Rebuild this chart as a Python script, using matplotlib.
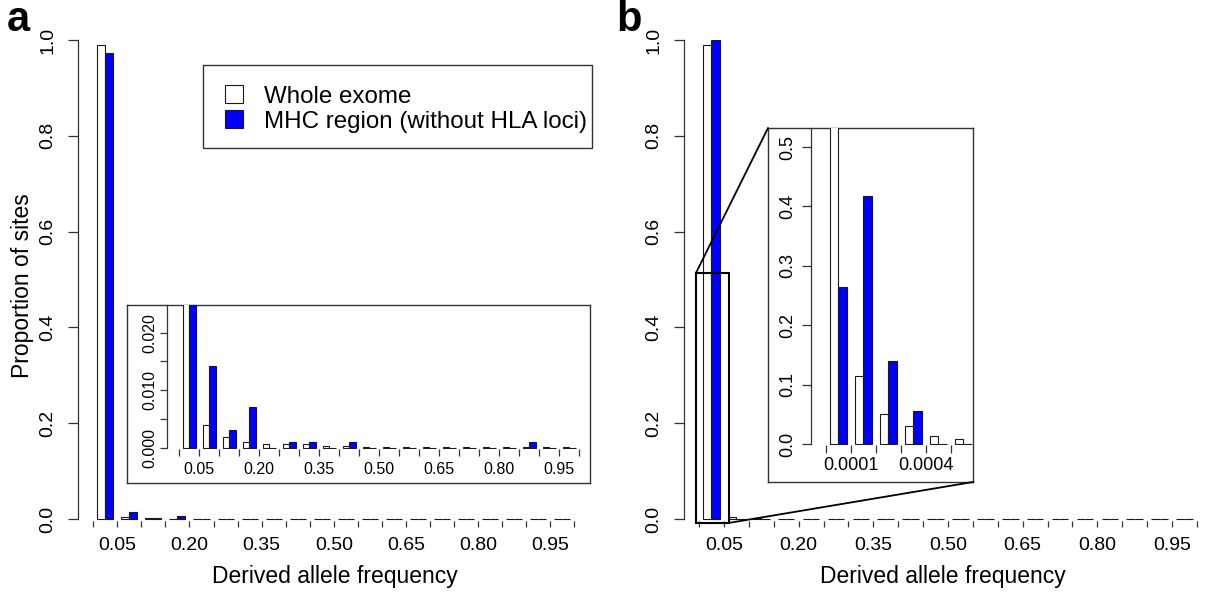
import matplotlib
matplotlib.use('Agg')
import matplotlib.pyplot as plt
from matplotlib.patches import Patch, Rectangle, ConnectionPatch
import numpy as np

plt.rcParams['font.family'] = ['Liberation Sans', 'DejaVu Sans']

# ---------------- data ----------------
series_names = ['Whole exome', 'MHC region (without HLA loci)']

bin_width = 0.05
freq_tick_labels = ['0.05', '0.20', '0.35', '0.50', '0.65', '0.80', '0.95']

a_whole = [0.990, 0.0040, 0.0019, 0.0011, 0.0007, 0.0006, 0.0006, 0.0004, 0.0003, 0.0002,
           0.0002, 0.0002, 0.0001, 0.0001, 0.0001, 0.0001, 0.0001, 0.0001, 0.0001, 0.0001]
a_mhc = [0.972, 0.0142, 0.0031, 0.0071, 0.0, 0.0010, 0.0010, 0.0, 0.0010, 0.0,
         0.0, 0.0, 0.0, 0.0, 0.0, 0.0, 0.0, 0.0010, 0.0, 0.0]

b_whole = [0.990, 0.0040, 0.0015, 0.0010, 0.0006, 0.0004, 0.0003, 0.0002, 0.0002, 0.0001,
           0.0001, 0.0001, 0.0001, 0.0001, 0.0001, 0.0001, 0.0001, 0.0001, 0.0001, 0.0001]
b_mhc = [1.000, 0.0, 0.0, 0.0, 0.0, 0.0, 0.0, 0.0, 0.0, 0.0,
         0.0, 0.0, 0.0, 0.0, 0.0, 0.0, 0.0, 0.0, 0.0, 0.0]

zoom_bin_width = 0.0001
zoom_tick_labels = ['0.0001', '0.0004']
zoom_n_ticks = 6
b_zoom_whole = [0.78, 0.114, 0.050, 0.031, 0.013, 0.008]
b_zoom_mhc = [0.264, 0.417, 0.139, 0.056, 0.0, 0.0]

main_yticks = [0.0, 0.2, 0.4, 0.6, 0.8, 1.0]
main_ytick_labels = ['0.0', '0.2', '0.4', '0.6', '0.8', '1.0']
a_inset_yticks = [0.000, 0.005, 0.010, 0.015, 0.020]
a_inset_ytick_labels = ['0.000', '', '0.010', '', '0.020']
b_inset_yticks = [0.0, 0.1, 0.2, 0.3, 0.4, 0.5]
b_inset_ytick_labels = ['0.0', '0.1', '0.2', '0.3', '0.4', '0.5']

zoom_rect_top = 0.514

# ---------------- style ----------------
W, H = 1206, 595
BLUE = '#0000FF'
EDGE = '#1a1a1a'
AXC = '#333333'

fig = plt.figure(figsize=(W / 100, H / 100), dpi=100)
fig.patch.set_facecolor('white')


def axes_px(l, t, r, b, **kw):
    return fig.add_axes([l / W, 1 - b / H, (r - l) / W, (b - t) / H], **kw)


def draw_bars(ax, whole, mhc):
    idx = np.arange(len(whole))
    ax.bar(3 * idx + 0.5, whole, width=1, align='edge', facecolor='white',
           edgecolor=EDGE, linewidth=0.8)
    ax.bar(3 * idx + 1.5, mhc, width=1, align='edge', facecolor=BLUE,
           edgecolor=EDGE, linewidth=0.8)


def style_axes(ax, ytop, nticks, xlabels, bw, yt, ytl, xfs, yfs, xlen, ylen, xpad, ypad):
    for s in ['top', 'right', 'bottom']:
        ax.spines[s].set_visible(False)
    ax.spines['left'].set_bounds(0, ytop)
    ax.spines['left'].set_color(AXC)
    ax.spines['left'].set_linewidth(0.9)
    pos = 3 * np.arange(nticks)
    lab = [''] * nticks
    for s in xlabels:
        lab[int(round(float(s) / bw))] = s
    ax.set_xticks(pos)
    ax.set_xticklabels(lab, fontsize=xfs)
    ax.set_yticks(yt)
    ax.set_yticklabels(ytl, fontsize=yfs, rotation=90, va='center')
    ax.tick_params(axis='x', length=xlen, width=0.9, color=AXC, pad=xpad)
    ax.tick_params(axis='y', length=ylen, width=0.9, color=AXC, pad=ypad)
    ax.set_facecolor('none')


# ---------------- panel a ----------------
axa = axes_px(78, 40, 589.7, 521)
draw_bars(axa, a_whole, a_mhc)
axa.set_xlim(-1.9, 61.9)
axa.set_ylim(-0.004, 1.0)
style_axes(axa, 1.0, len(a_whole) + 1, freq_tick_labels, bin_width,
           main_yticks, main_ytick_labels, 14, 14, 4.3, 7.2, 7, 8.6)
axa.set_xlabel('Derived allele frequency', fontsize=16.5)
axa.xaxis.set_label_coords(335 / W, 1 - 565 / H, transform=fig.transFigure)
axa.set_ylabel('Proportion of sites', fontsize=16.5)
axa.yaxis.set_label_coords(34 / W, 1 - 286 / H, transform=fig.transFigure)

# inset a
boxa = axes_px(127, 305, 590, 483)
boxa.set_xticks([]); boxa.set_yticks([])
for s in boxa.spines.values():
    s.set_color(AXC); s.set_linewidth(1.0)

insa = axes_px(167, 305, 590, 449)
draw_bars(insa, a_whole, a_mhc)
insa.set_xlim(-1.85, 61.6)
insa.set_ylim(-0.0002, 0.0248)
style_axes(insa, 0.0248, len(a_whole) + 1, freq_tick_labels, bin_width,
           a_inset_yticks, a_inset_ytick_labels, 11.5, 11.5, 5, 5, 4, 2)

# legend: frame drawn as a rectangle, entries placed inside it
frame = Rectangle((203 / W, 1 - 148 / H), (592 - 203) / W, (148 - 65) / H,
                  transform=fig.transFigure, facecolor='white', edgecolor=AXC,
                  linewidth=1.0, zorder=3)
fig.add_artist(frame)
leg = fig.legend(handles=[Patch(facecolor='white', edgecolor=EDGE, linewidth=0.8),
                          Patch(facecolor=BLUE, edgecolor=EDGE, linewidth=0.8)],
                 labels=series_names, loc='center left',
                 bbox_to_anchor=(225 / W, 1 - 109 / H),
                 fontsize=17.4, frameon=False, borderpad=0,
                 handlelength=0.75, handleheight=0.75,
                 handletextpad=0.85, labelspacing=0.12, borderaxespad=0)
leg.set_zorder(4)

# ---------------- panel b ----------------
axb = axes_px(684, 40, 1212, 521)
draw_bars(axb, b_whole, b_mhc)
axb.set_xlim(-1.81, 61.81)
axb.set_ylim(-0.004, 1.0)
style_axes(axb, 1.0, len(b_whole) + 1, freq_tick_labels, bin_width,
           main_yticks, main_ytick_labels, 14, 14, 4.3, 7.2, 7, 8.6)
axb.set_xlabel('Derived allele frequency', fontsize=16.5)
axb.xaxis.set_label_coords(943 / W, 1 - 565 / H, transform=fig.transFigure)

rect = Rectangle((-0.36, -0.008), 3.96, zoom_rect_top + 0.008, fill=False,
                 edgecolor='black', linewidth=1.5, clip_on=False, zorder=5)
axb.add_patch(rect)

boxb = axes_px(768, 128, 973, 482)
boxb.set_xticks([]); boxb.set_yticks([])
for s in boxb.spines.values():
    s.set_color(AXC); s.set_linewidth(1.0)

insb = axes_px(811, 128, 973, 445)
draw_bars(insb, b_zoom_whole, b_zoom_mhc)
insb.set_xlim(-1.76, 17.68)
insb.set_ylim(-0.0017, 0.532)
style_axes(insb, 0.532, zoom_n_ticks, zoom_tick_labels, zoom_bin_width,
           b_inset_yticks, b_inset_ytick_labels, 13, 13, 5.5, 6.5, 3, 4)

for xyA, xyB in [((-0.36, zoom_rect_top), (768 / W, 1 - 128 / H)),
                 ((3.6, -0.008), (973 / W, 1 - 482 / H))]:
    con = ConnectionPatch(xyA=xyA, coordsA=axb.transData, xyB=xyB,
                          coordsB=fig.transFigure, color='black', linewidth=1.3)
    fig.add_artist(con)

# panel letters
fig.text(18 / W, 1 - 20 / H, 'a', fontsize=30, fontweight='bold', ha='center', va='center')
fig.text(629 / W, 1 - 20 / H, 'b', fontsize=30, fontweight='bold', ha='center', va='center')

fig.savefig('out.png', dpi=100, facecolor='white')
